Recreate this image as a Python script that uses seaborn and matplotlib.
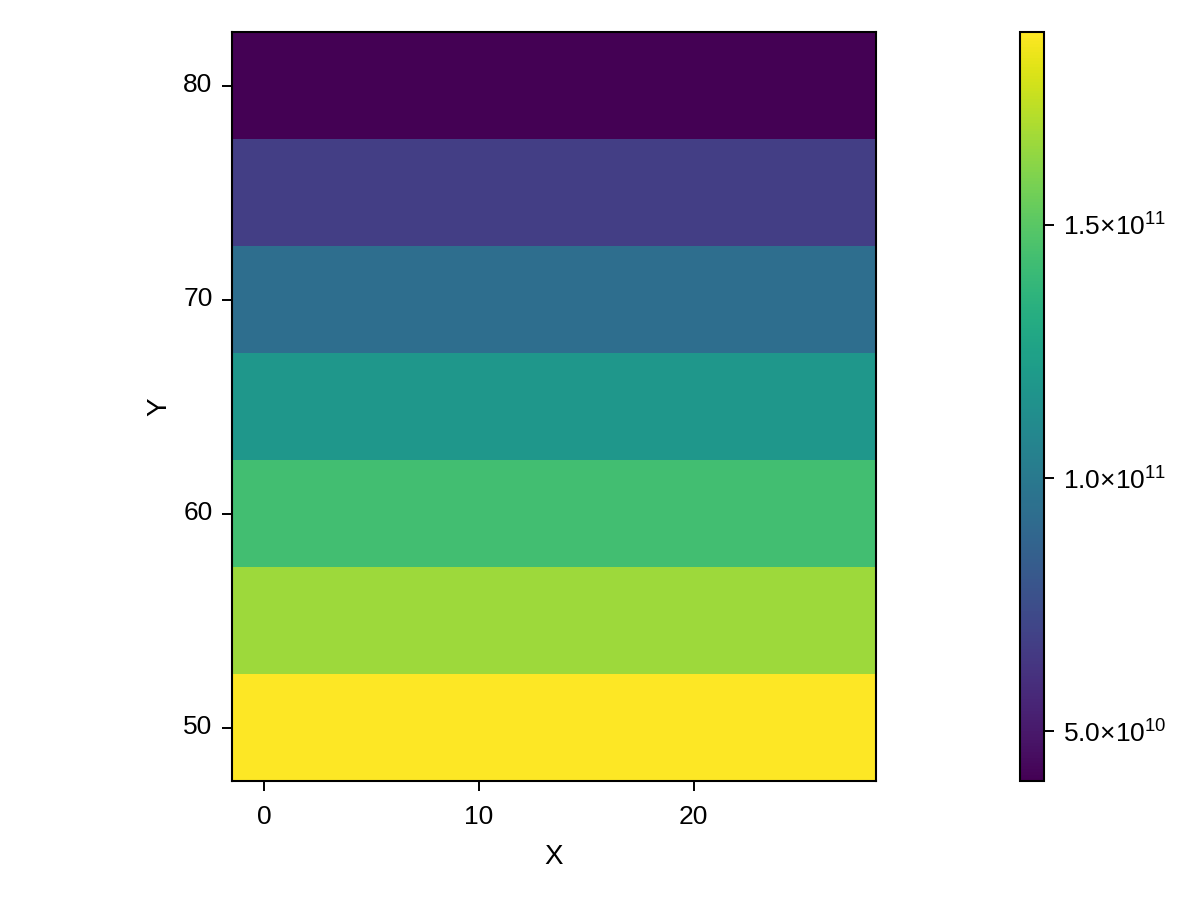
import matplotlib
matplotlib.use("Agg")
import matplotlib.pyplot as plt
import seaborn as sns
import pandas as pd
import numpy as np
from matplotlib.ticker import FuncFormatter

# Step 1: data
x_vals = [0, 3, 6, 9, 12, 15, 18, 21, 24, 27]
y_vals = [80, 75, 70, 65, 60, 55, 50]
row_values = [4.02e10, 6.68e10, 9.33e10, 1.186e11, 1.431e11, 1.662e11, 1.881e11]
x_ticks = [0, 10, 20]
y_ticks = [50, 60, 70, 80]
cbar_ticks = [5e10, 1e11, 1.5e11]

# Step 2: style
sns.set_style("ticks")
plt.rcParams['font.family'] = ['Liberation Sans', 'DejaVu Sans']
plt.rcParams['mathtext.fontset'] = 'custom'
plt.rcParams['mathtext.rm'] = 'Liberation Sans'
plt.rcParams['mathtext.default'] = 'regular'
plt.rcParams['text.color'] = 'black'
plt.rcParams['axes.labelcolor'] = 'black'
plt.rcParams['xtick.color'] = 'black'
plt.rcParams['ytick.color'] = 'black'

df = pd.DataFrame([[v] * len(x_vals) for v in row_values], index=y_vals, columns=x_vals)

# Step 3: figure and axes placed like the reference
fig = plt.figure(figsize=(12, 9), dpi=100)
ax = fig.add_axes([232 / 1200, 119 / 900, 644 / 1200, 749 / 900])
cax = fig.add_axes([1020 / 1200, 119 / 900, 24 / 1200, 749 / 900])

sns.heatmap(df, ax=ax, cmap='viridis', cbar_ax=cax)

# map numeric ticks onto heatmap cell positions
dx = x_vals[1] - x_vals[0]
dy = y_vals[0] - y_vals[1]
ax.set_xticks([(t - x_vals[0]) / dx + 0.5 for t in x_ticks])
ax.set_xticklabels([str(t) for t in x_ticks], rotation=0)
ax.set_yticks([(y_vals[0] - t) / dy + 0.5 for t in y_ticks])
ax.set_yticklabels([str(t) for t in y_ticks], rotation=0)
ax.set_xlabel('X', fontsize=20, labelpad=11)
ax.set_ylabel('Y', fontsize=20, labelpad=8)
ax.tick_params(axis='both', direction='out', length=7, width=1.4, labelsize=19,
               color='black', labelcolor='black', pad=7, left=True, bottom=True)
ax.tick_params(axis='x', pad=10)
for s in ax.spines.values():
    s.set_visible(True)
    s.set_linewidth(1.5)
    s.set_color('black')

# colorbar
cb = ax.collections[0].colorbar
cb.outline.set_linewidth(1.5)
cb.outline.set_edgecolor('black')


def sci(v, pos):
    exp = int(np.floor(np.log10(v)))
    m = v / 10 ** exp
    return rf"${m:.1f}{{\times}}10^{{{exp}}}$"


cb.set_ticks(cbar_ticks)
cb.ax.yaxis.set_major_formatter(FuncFormatter(sci))
cax.tick_params(axis='y', direction='out', length=7, width=1.4, labelsize=19,
                color='black', labelcolor='black', pad=7, right=True)

fig.savefig('out.png', dpi=100)
